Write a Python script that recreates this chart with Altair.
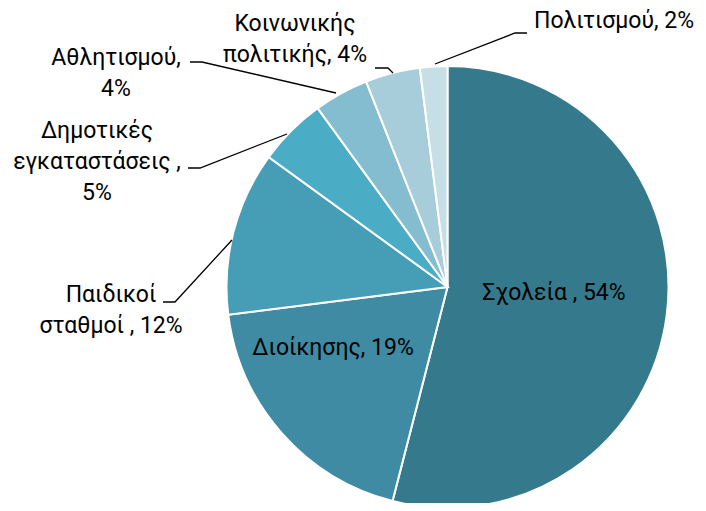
import altair as alt
import pandas as pd

# ---- data ----
categories = ["Σχολεία", "Διοίκησης", "Παιδικοί σταθμοί", "Δημοτικές εγκαταστάσεις",
              "Αθλητισμού", "Κοινωνικής πολιτικής", "Πολιτισμού"]
shares = [54, 19, 12, 5, 4, 4, 2]
label_texts = ["Σχολεία , 54%", "Διοίκησης, 19%", "Παιδικοί\nσταθμοί , 12%",
               "Δημοτικές\nεγκαταστάσεις ,\n5%", "Αθλητισμού,\n4%",
               "Κοινωνικής\nπολιτικής, 4%", "Πολιτισμού, 2%"]
colors = ["#357A8C", "#3E8BA3", "#459DB6", "#4BACC6", "#85BDD0", "#A7CDDB", "#C6DEE6"]

# ---- layout (pixel positions of labels and leader lines) ----
CX, CY, R = 439.5, 279, 221
label_x = [546, 325, 103, 89, 108, 287, 606]
label_y = [292, 347, 294, 130, 57, 23, 20]   # first-line baselines
leader_pts = {
    "Πολιτισμού": [(427, 56), (507, 25), (519, 25)],
    "Κοινωνικής πολιτικής": [(367, 60), (380, 60), (385, 65)],
    "Αθλητισμού": [(182, 54), (194, 54), (328, 85)],
    "Δημοτικές εγκαταστάσεις": [(180, 160), (192, 160), (279, 126)],
    "Παιδικοί σταθμοί": [(155, 294), (167, 294), (224, 232)],
}

FONT = "Roboto, Open Sans, sans-serif"

pie_df = pd.DataFrame({"cat": categories, "share": shares, "ord": list(range(len(categories)))})
lab_df = pd.DataFrame({"cat": categories, "text": label_texts, "lx": label_x, "ly": label_y})
rows = []
for k, pts in leader_pts.items():
    for i, (px, py) in enumerate(pts):
        rows.append({"cat": k, "i": i, "px": px, "py": py})
lead_df = pd.DataFrame(rows)

arcs = alt.Chart(pie_df).mark_arc(outerRadius=R, stroke="white", strokeWidth=2).encode(
    theta=alt.Theta("share:Q", stack=True),
    order=alt.Order("ord:Q"),
    color=alt.Color("cat:N", scale=alt.Scale(domain=categories, range=colors), legend=None),
    x=alt.value(CX),
    y=alt.value(CY),
)

labels = alt.Chart(lab_df).mark_text(
    font=FONT, fontSize=23, lineBreak="\n", lineHeight=31,
    align="center", baseline="alphabetic", color="#000000",
).encode(
    x=alt.X("lx:Q", scale=None, axis=None),
    y=alt.Y("ly:Q", scale=None, axis=None),
    text="text:N",
)

leaders = alt.Chart(lead_df).mark_line(color="#000000", strokeWidth=1.3).encode(
    x=alt.X("px:Q", scale=None, axis=None),
    y=alt.Y("py:Q", scale=None, axis=None),
    detail="cat:N",
    order="i:Q",
)

chart = alt.layer(arcs, leaders, labels).properties(
    width=690, height=495, padding=0, autosize=alt.AutoSizeParams(type="none"),
).configure_view(stroke=None)

chart.save("out.html", embed_options={"renderer": "svg", "actions": False})
